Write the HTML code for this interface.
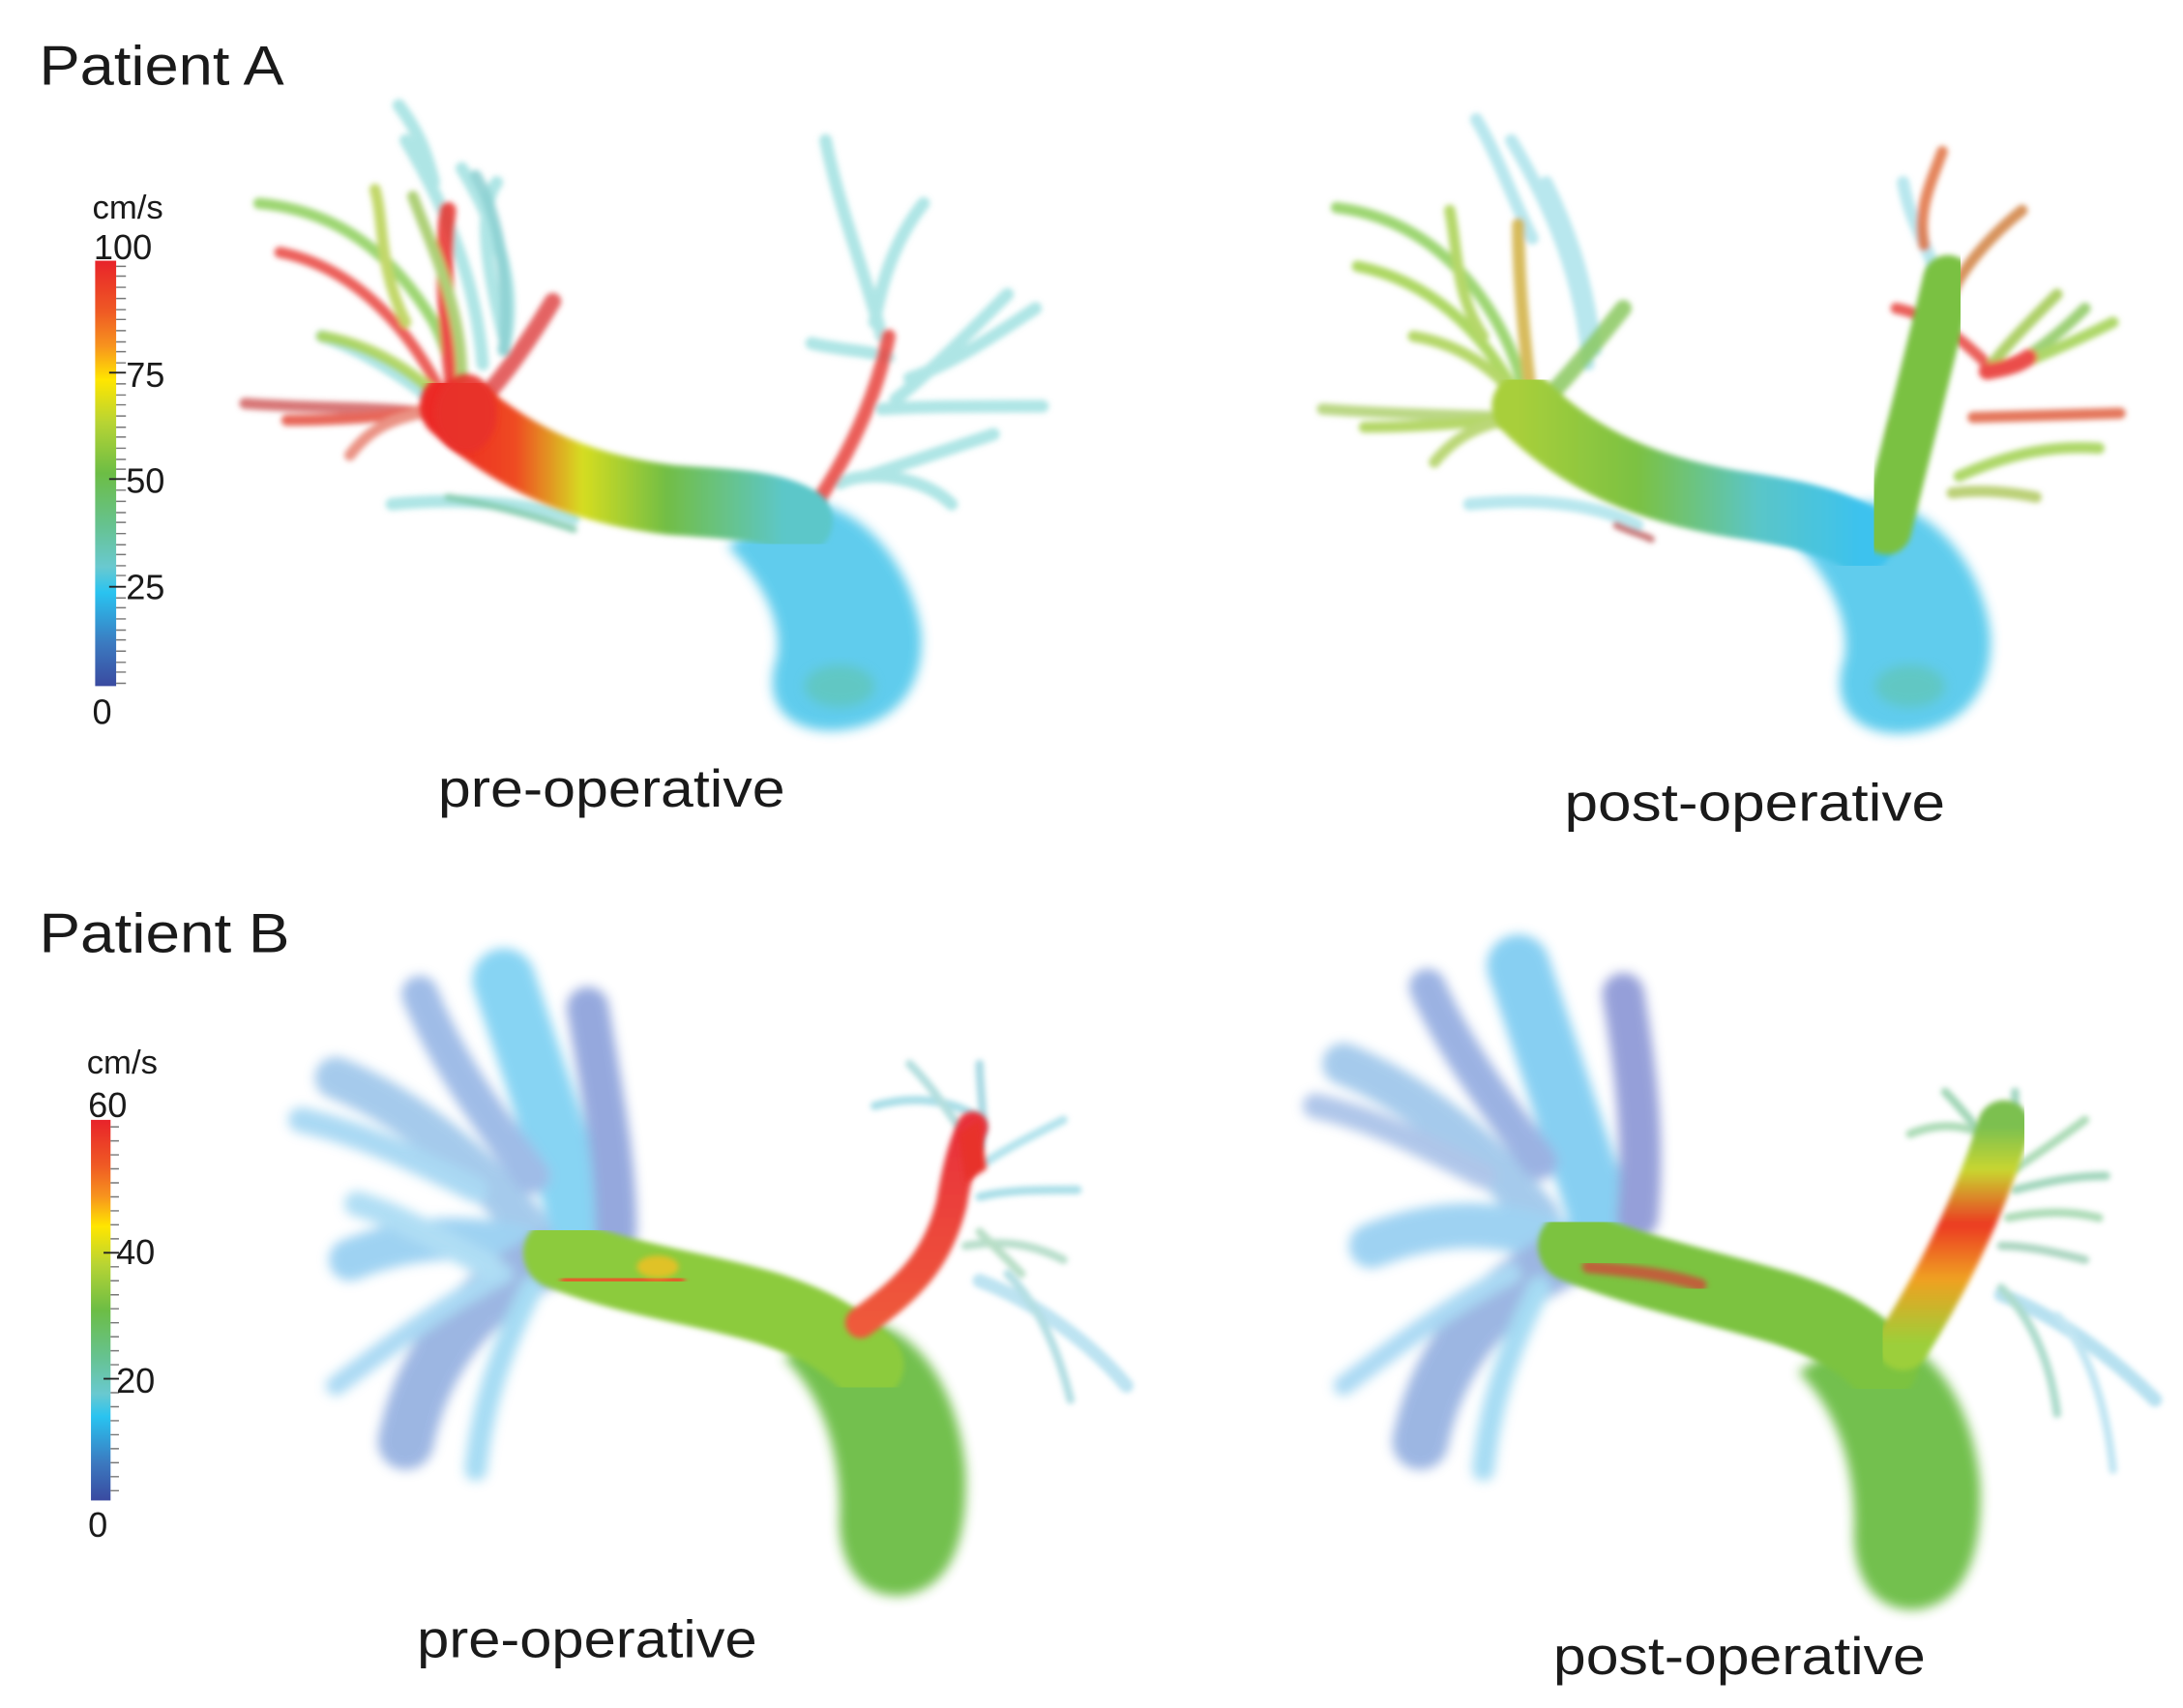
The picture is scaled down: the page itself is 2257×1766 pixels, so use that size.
<!DOCTYPE html>
<html><head><meta charset="utf-8">
<style>
html,body{margin:0;padding:0;background:#fff;}
svg{display:block}
text{font-family:"Liberation Sans",sans-serif;fill:#1a1a1a}
</style></head>
<body>
<svg width="2257" height="1766" viewBox="0 0 1560 1220" xmlns="http://www.w3.org/2000/svg">
<defs>
<linearGradient id="cbA" x1="0" y1="0" x2="0" y2="1">
<stop offset="0" stop-color="#e8232a"/><stop offset="0.12" stop-color="#ef5a24"/><stop offset="0.2" stop-color="#f7931e"/><stop offset="0.28" stop-color="#ffe600"/><stop offset="0.38" stop-color="#b8d433"/><stop offset="0.5" stop-color="#6cbd45"/><stop offset="0.62" stop-color="#66c28e"/><stop offset="0.72" stop-color="#69c9d0"/><stop offset="0.78" stop-color="#29c3f0"/><stop offset="0.9" stop-color="#3b7ac0"/><stop offset="1" stop-color="#3a4aa0"/>
</linearGradient>
<linearGradient id="trA" x1="320" y1="0" x2="560" y2="0" gradientUnits="userSpaceOnUse">
<stop offset="0" stop-color="#ec2a25"/><stop offset="0.2" stop-color="#ef4a22"/><stop offset="0.4" stop-color="#d6dd20"/><stop offset="0.65" stop-color="#72be45"/><stop offset="1" stop-color="#5cc7c9"/>
</linearGradient>
<linearGradient id="trA2" x1="1085" y1="0" x2="1330" y2="0" gradientUnits="userSpaceOnUse">
<stop offset="0" stop-color="#a8cf3a"/><stop offset="0.35" stop-color="#7bc143"/><stop offset="0.7" stop-color="#5ac6c8"/><stop offset="1" stop-color="#3cc2ee"/>
</linearGradient>
<linearGradient id="redB" x1="0" y1="1" x2="0" y2="0">
<stop offset="0" stop-color="#ef5a3a"/><stop offset="1" stop-color="#e8303a"/>
</linearGradient>
<linearGradient id="orB" x1="0" y1="1" x2="0" y2="0">
<stop offset="0" stop-color="#9ccf3a"/><stop offset="0.3" stop-color="#f0a020"/><stop offset="0.55" stop-color="#ec3a22"/><stop offset="0.8" stop-color="#c9d630"/><stop offset="1" stop-color="#7cc050"/>
</linearGradient>
<filter id="bl" x="-20%" y="-20%" width="140%" height="140%"><feGaussianBlur stdDeviation="2"/></filter>
<filter id="bl2" x="-20%" y="-20%" width="140%" height="140%"><feGaussianBlur stdDeviation="4"/></filter>
</defs>

<text x="28" y="60" font-size="40" textLength="175" lengthAdjust="spacingAndGlyphs">Patient A</text>
<text x="28" y="680" font-size="40" textLength="179" lengthAdjust="spacingAndGlyphs">Patient B</text>
<text x="313" y="576" font-size="38" textLength="248" lengthAdjust="spacingAndGlyphs">pre-operative</text>
<text x="1118" y="586" font-size="38" textLength="272" lengthAdjust="spacingAndGlyphs">post-operative</text>
<text x="298" y="1184" font-size="38" textLength="243" lengthAdjust="spacingAndGlyphs">pre-operative</text>
<text x="1110" y="1196" font-size="38" textLength="266" lengthAdjust="spacingAndGlyphs">post-operative</text>

<text x="66" y="156" font-size="24">cm/s</text>
<text x="67" y="185" font-size="25">100</text>
<rect x="68" y="186" width="15" height="304" fill="url(#cbA)"/>
<g stroke="#777" stroke-width="1">
<path d="M83 190h7M83 197h7M83 205h7M83 213h7M83 221h7M83 228h7M83 236h7M83 244h7M83 251h7M83 259h7M83 274h7M83 282h7M83 289h7M83 297h7M83 305h7M83 312h7M83 320h7M83 328h7M83 335h7M83 350h7M83 358h7M83 366h7M83 373h7M83 381h7M83 389h7M83 396h7M83 404h7M83 411h7M83 427h7M83 434h7M83 442h7M83 450h7M83 457h7M83 465h7M83 473h7M83 480h7M83 488h7"/>
</g>
<g stroke="#222" stroke-width="1.3"><path d="M78 266h12M78 342h12M78 419h12"/></g>
<text x="90" y="276" font-size="25">75</text>
<text x="90" y="352" font-size="25">50</text>
<text x="90" y="428" font-size="25">25</text>
<text x="66" y="517" font-size="25">0</text>

<text x="62" y="767" font-size="24">cm/s</text>
<text x="63" y="798" font-size="25">60</text>
<rect x="65" y="800" width="14" height="272" fill="url(#cbA)"/>
<g stroke="#777" stroke-width="1">
<path d="M79 805h6M79 815h6M79 825h6M79 835h6M79 845h6M79 855h6M79 865h6M79 875h6M79 885h6M79 905h6M79 915h6M79 925h6M79 935h6M79 945h6M79 955h6M79 965h6M79 975h6M79 995h6M79 1005h6M79 1015h6M79 1025h6M79 1035h6M79 1045h6M79 1055h6M79 1065h6"/>
</g>
<g stroke="#222" stroke-width="1.3"><path d="M74 895h11M74 985h11"/></g>
<text x="83" y="903" font-size="25">40</text>
<text x="83" y="995" font-size="25">20</text>
<text x="63" y="1098" font-size="25">0</text>

<g fill="none" stroke-linecap="round" filter="url(#bl)">
 <g stroke-width="9" opacity="0.55" stroke="#6ccfcf">
  <path d="M285 75 C300 95 305 110 310 130"/>
  <path d="M290 100 C320 150 340 200 345 260"/>
  <path d="M330 120 C360 170 370 210 360 250"/>
  <path d="M355 130 C340 150 350 200 360 240"/>
  <path d="M590 100 C600 150 620 200 630 240"/>
  <path d="M660 145 C640 170 630 200 625 230"/>
  <path d="M740 220 C710 240 680 260 650 270"/>
  <path d="M720 210 C690 240 660 270 640 285"/>
  <path d="M745 290 C700 290 660 290 630 292"/>
  <path d="M680 360 C660 340 620 335 600 345"/>
  <path d="M710 310 C680 320 650 330 620 340"/>
  <path d="M580 245 C600 250 620 250 635 255"/>
  <path d="M280 360 C330 355 380 360 410 370"/>
  <path d="M230 240 C260 250 290 270 315 290"/>
 </g>
 <g stroke-width="8" opacity="0.85">
  <path d="M185 145 C240 150 280 180 310 230 C320 250 325 270 325 285" stroke="#8ccf5a"/>
  <path d="M200 180 C250 190 290 230 315 280" stroke="#e9443c"/>
  <path d="M175 288 C230 292 270 290 305 295" stroke="#d06060"/>
  <path d="M205 300 C240 300 275 298 310 292" stroke="#e44d3c"/>
  <path d="M250 325 C265 305 280 300 300 295" stroke="#e88070"/>
  <path d="M230 240 C260 245 290 260 315 285" stroke="#a8d050"/>
  <path d="M268 135 C275 160 270 190 290 230" stroke="#b8d050"/>
  <path d="M320 150 C315 190 320 240 325 285" stroke="#e8302a" stroke-width="12"/>
  <path d="M295 140 C310 180 330 220 330 270" stroke="#a0c860"/>
  <path d="M395 215 C380 240 360 270 340 290" stroke="#e04848" stroke-width="12"/>
  <path d="M340 125 C355 150 365 200 360 250" stroke="#8acfd0"/>
  <path d="M635 240 C625 290 600 340 568 380" stroke="#e8433c" stroke-width="10"/>
  <path d="M320 355 C350 360 380 368 410 378" stroke="#7ec8a8" stroke-width="5"/>
 </g>
</g>
<path d="M560 360 C610 350 650 400 658 450 C662 490 640 520 595 522 C560 522 545 500 555 470 C560 440 540 410 520 390 Z" fill="#45c4ea" opacity="0.85" filter="url(#bl2)"/>
<path d="M325 290 C370 330 420 350 480 357 C520 360 550 360 570 372" stroke="url(#trA)" stroke-width="50" fill="none" stroke-linecap="round" filter="url(#bl)"/>
<ellipse cx="333" cy="295" rx="22" ry="28" fill="#e8302a" opacity="0.9" filter="url(#bl)"/>
<ellipse cx="600" cy="490" rx="25" ry="15" fill="#62c39b" opacity="0.5" filter="url(#bl2)"/>

<g fill="none" stroke-linecap="round" filter="url(#bl)">
 <g stroke-width="9" opacity="0.55" stroke="#7fd3e0">
  <path d="M1055 85 C1070 110 1080 140 1095 170"/>
  <path d="M1080 100 C1110 150 1130 200 1135 260"/>
  <path d="M1105 130 C1120 160 1135 200 1140 250"/>
  <path d="M1050 360 C1100 355 1140 360 1170 375"/>
  <path d="M1360 130 C1365 160 1380 180 1385 200"/>
 </g>
 <g stroke-width="8" opacity="0.85">
  <path d="M955 148 C1010 155 1050 190 1075 240 C1085 260 1090 280 1090 290" stroke="#8ccf5a"/>
  <path d="M970 190 C1020 200 1060 235 1085 285" stroke="#9fd048"/>
  <path d="M945 292 C1000 296 1040 296 1080 298" stroke="#b0d070"/>
  <path d="M975 305 C1010 305 1050 302 1085 298" stroke="#a8d050"/>
  <path d="M1025 330 C1040 312 1055 305 1075 300" stroke="#b0d060"/>
  <path d="M1010 240 C1040 245 1065 260 1085 285" stroke="#a8d050"/>
  <path d="M1036 150 C1042 180 1040 210 1060 240" stroke="#a8d050"/>
  <path d="M1085 160 C1085 200 1090 250 1095 290" stroke="#d0b040" stroke-width="9"/>
  <path d="M1160 220 C1140 245 1120 270 1100 290" stroke="#8ac860" stroke-width="12"/>
  <path d="M1388 108 C1380 130 1370 150 1375 175" stroke="#e07040"/>
  <path d="M1445 150 C1420 170 1400 195 1395 210" stroke="#d08040"/>
  <path d="M1355 220 C1380 225 1400 240 1420 260" stroke="#e8443c"/>
  <path d="M1470 210 C1450 230 1430 250 1420 265" stroke="#a0c850"/>
  <path d="M1490 220 C1470 240 1450 255 1430 265" stroke="#8cc860"/>
  <path d="M1510 230 C1480 245 1450 258 1430 265" stroke="#a0d050"/>
  <path d="M1420 265 C1440 262 1445 258 1450 255" stroke="#e8302a" stroke-width="12"/>
  <path d="M1515 295 C1480 296 1450 297 1410 298" stroke="#e06040"/>
  <path d="M1500 320 C1470 318 1440 322 1400 340" stroke="#a0d050"/>
  <path d="M1455 355 C1430 350 1410 350 1395 352" stroke="#b0c860"/>
  <path d="M1355 305 C1352 320 1355 330 1360 335" stroke="#d06040"/>
  <path d="M1155 375 C1165 380 1175 382 1180 385" stroke="#c06060" stroke-width="5"/>
 </g>
</g>
<path d="M1325 360 C1375 350 1415 400 1422 450 C1426 490 1405 522 1358 524 C1322 524 1308 500 1318 470 C1322 440 1305 410 1285 390 Z" fill="#45c4ea" opacity="0.85" filter="url(#bl2)"/>
<path d="M1090 290 C1130 330 1180 350 1240 360 C1280 366 1310 372 1330 385" stroke="url(#trA2)" stroke-width="48" fill="none" stroke-linecap="round" filter="url(#bl)"/>
<path d="M1348 378 C1362 320 1378 260 1392 200" stroke="#7ac143" stroke-width="36" fill="none" stroke-linecap="round" filter="url(#bl)"/>
<ellipse cx="1365" cy="490" rx="25" ry="15" fill="#62c39b" opacity="0.5" filter="url(#bl2)"/>

<g fill="none" stroke-linecap="round" filter="url(#bl2)" opacity="0.6">
 <path d="M240 770 C290 790 340 830 380 880" stroke="#6aa8e0" stroke-width="30"/>
 <path d="M250 900 C300 880 350 880 400 900" stroke="#5fb5ea" stroke-width="30"/>
 <path d="M290 1030 C300 980 330 930 390 900" stroke="#5c86d0" stroke-width="40"/>
 <path d="M360 700 C380 760 400 820 420 890" stroke="#39b8ec" stroke-width="45"/>
 <path d="M420 720 C430 780 440 830 440 880" stroke="#5070c8" stroke-width="30"/>
 <path d="M300 710 C320 760 350 800 380 840" stroke="#6090d8" stroke-width="26"/>
 <path d="M215 800 C260 810 300 830 340 850" stroke="#72c0ec" stroke-width="18"/>
 <path d="M240 990 C280 960 320 930 360 910" stroke="#72c0ec" stroke-width="14"/>
 <path d="M340 1050 C345 1000 360 960 380 920" stroke="#6ac4ec" stroke-width="16"/>
 <path d="M255 860 C290 870 320 890 350 905" stroke="#7cc8ee" stroke-width="18"/>
</g>
<g fill="none" stroke-linecap="round" filter="url(#bl)" opacity="0.6" stroke-width="6">
 <path d="M625 790 C660 780 690 790 700 800" stroke="#70c8d8"/>
 <path d="M650 760 C670 780 680 800 690 810" stroke="#80c8c8"/>
 <path d="M700 760 C700 780 705 800 700 820" stroke="#70c0d0"/>
 <path d="M760 800 C740 810 720 820 705 830" stroke="#80d0e0"/>
 <path d="M770 850 C740 850 720 850 700 855" stroke="#70c8d8"/>
 <path d="M760 900 C740 890 720 885 690 890" stroke="#88c8a8"/>
 <path d="M805 990 C780 960 740 930 700 915" stroke="#90d0e8" stroke-width="10"/>
 <path d="M765 1000 C755 960 740 930 720 910" stroke="#80c8d0"/>
 <path d="M700 880 C710 890 720 900 730 910" stroke="#88c8a0"/>
</g>
<path d="M600 945 C650 935 685 990 690 1050 C692 1100 680 1135 645 1140 C610 1142 598 1110 600 1080 C600 1040 590 1000 560 970 Z" fill="#6cbd45" opacity="0.95" filter="url(#bl2)"/>
<path d="M400 895 C450 915 500 920 550 935 C580 945 600 955 620 975" stroke="#8ccb3c" stroke-width="52" fill="none" stroke-linecap="round" filter="url(#bl)"/>
<path d="M405 915 C430 915 460 912 485 915" stroke="#e0602c" stroke-width="9" fill="none" stroke-linecap="round" filter="url(#bl)"/>
<ellipse cx="470" cy="905" rx="15" ry="8" fill="#f5c020" opacity="0.8" filter="url(#bl)"/>
<path d="M615 945 C650 920 670 900 680 860 C685 830 690 815 695 805" stroke="url(#redB)" stroke-width="22" fill="none" stroke-linecap="round" filter="url(#bl)"/>
<path d="M685 810 L700 800 L705 835 L690 845 Z" fill="#e8302a" filter="url(#bl)"/>

<g fill="none" stroke-linecap="round" filter="url(#bl2)" opacity="0.6">
 <path d="M960 760 C1010 780 1060 820 1100 870" stroke="#6aa8e0" stroke-width="30"/>
 <path d="M980 890 C1030 870 1080 870 1130 895" stroke="#5fb5ea" stroke-width="32"/>
 <path d="M1015 1030 C1025 980 1055 930 1115 900" stroke="#5c86d0" stroke-width="40"/>
 <path d="M1085 690 C1105 750 1125 810 1150 890" stroke="#39b0ea" stroke-width="45"/>
 <path d="M1160 710 C1170 770 1175 820 1170 870" stroke="#5060c0" stroke-width="30"/>
 <path d="M1020 705 C1040 750 1070 790 1100 830" stroke="#5a80d0" stroke-width="26"/>
 <path d="M940 790 C985 800 1020 820 1060 840" stroke="#7aa0dc" stroke-width="18"/>
 <path d="M960 990 C1000 960 1040 930 1080 910" stroke="#72c0ec" stroke-width="14"/>
 <path d="M1060 1050 C1065 1000 1080 960 1100 920" stroke="#6ac4ec" stroke-width="16"/>
</g>
<g fill="none" stroke-linecap="round" filter="url(#bl)" opacity="0.65" stroke-width="6">
 <path d="M1365 810 C1390 800 1410 805 1425 815" stroke="#80c890"/>
 <path d="M1390 780 C1405 795 1415 810 1425 820" stroke="#70c090"/>
 <path d="M1440 780 C1440 800 1440 815 1435 830" stroke="#70c0a0"/>
 <path d="M1490 800 C1470 815 1455 825 1440 835" stroke="#80c890"/>
 <path d="M1505 840 C1480 840 1460 845 1440 850" stroke="#70c098"/>
 <path d="M1500 870 C1480 865 1460 865 1435 870" stroke="#80c890"/>
 <path d="M1490 900 C1470 895 1450 890 1430 890" stroke="#80c0a0"/>
 <path d="M1540 1000 C1510 970 1470 940 1430 925" stroke="#90d0e8" stroke-width="10"/>
 <path d="M1470 1010 C1465 970 1450 940 1430 920" stroke="#80c8b0"/>
 <path d="M1510 1050 C1505 1000 1490 960 1470 940" stroke="#a0d8ec"/>
</g>
<path d="M1325 955 C1375 945 1410 1000 1415 1060 C1417 1110 1405 1145 1370 1150 C1335 1152 1323 1120 1325 1090 C1325 1050 1315 1010 1285 980 Z" fill="#6cbd45" opacity="0.95" filter="url(#bl2)"/>
<path d="M1125 890 C1175 910 1225 920 1275 935 C1305 945 1325 955 1345 975" stroke="#7cc33f" stroke-width="52" fill="none" stroke-linecap="round" filter="url(#bl)"/>
<path d="M1135 905 C1165 908 1190 910 1215 918" stroke="#c0603a" stroke-width="9" fill="none" stroke-linecap="round" filter="url(#bl)"/>
<path d="M1360 960 C1385 920 1405 880 1420 840 C1428 820 1430 810 1432 805" stroke="url(#orB)" stroke-width="38" fill="none" stroke-linecap="round" filter="url(#bl)"/>
</svg>
</body></html>
